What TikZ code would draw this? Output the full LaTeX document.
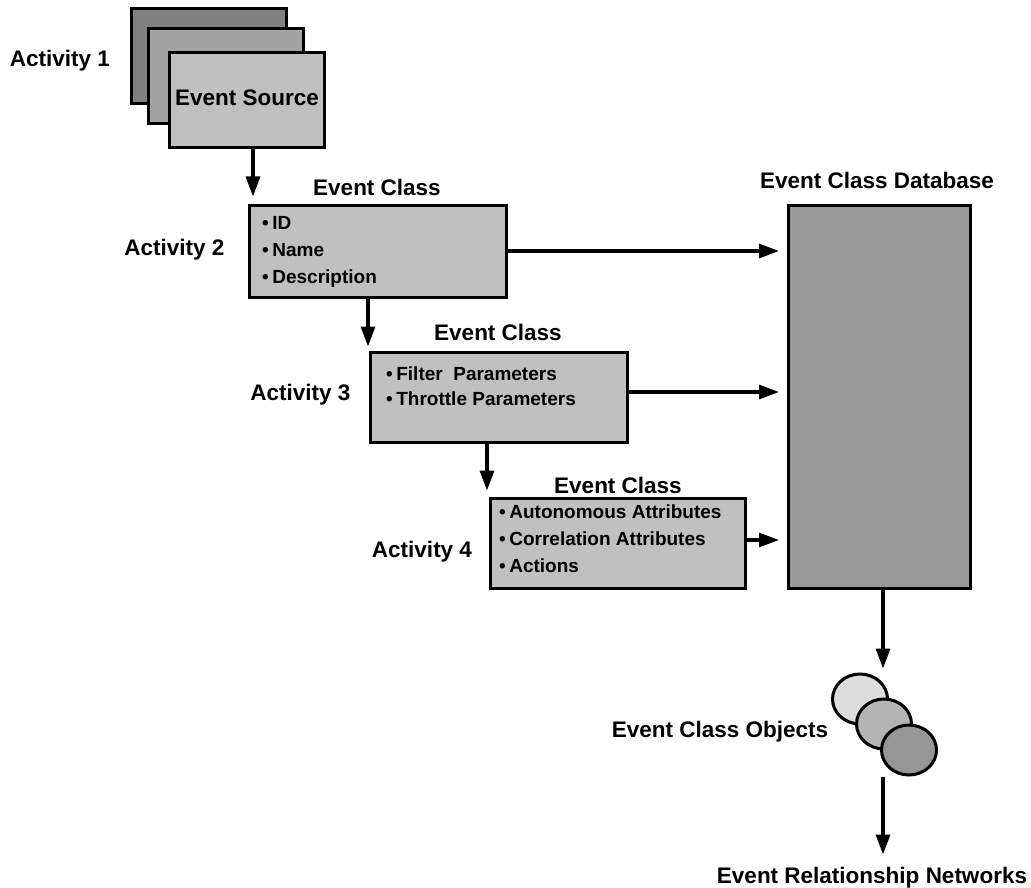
\documentclass[tikz,border=0pt]{standalone}
\usepackage{fontspec}
\setmainfont{Liberation Sans}
\usetikzlibrary{arrows.meta,calc,shapes.geometric}

\definecolor{srcdark}{HTML}{808080}
\definecolor{srcmid}{HTML}{A3A3A3}
\definecolor{boxgray}{HTML}{C0C0C0}
\definecolor{dbgray}{HTML}{999999}
\definecolor{objlight}{HTML}{DCDCDC}
\definecolor{objmid}{HTML}{B4B4B4}
\definecolor{objdark}{HTML}{969696}

% bullet item: dot, small gap, text
\newcommand{\itm}[1]{\textbullet\hspace{3.5pt}#1}

\begin{document}
\begin{tikzpicture}[x=1pt,y=-1pt,
  font=\fontsize{22.5}{27}\selectfont\bfseries,
  panel/.style={draw, line width=3pt, fill=boxgray, inner sep=0pt},
  srcpanel/.style={panel, minimum width=155pt, minimum height=95pt},
  classbox/.style={panel, minimum width=256pt, minimum height=90pt},
  obj/.style={draw, line width=3pt, ellipse, minimum width=55pt, minimum height=50pt, inner sep=0pt},
  label/.style={inner sep=0pt, anchor=base},
  item/.style={inner sep=0pt, anchor=base west, font=\fontsize{19}{22}\selectfont\bfseries},
  arr/.style={line width=3.2pt, -{Triangle[length=20pt,width=14pt]}}]

\useasboundingbox (0,0) rectangle (1031,888);

% stacked event sources
\node[srcpanel, fill=srcdark] (src3) at (209,56) {};
\node[srcpanel, fill=srcmid]  (src2) at (226,76) {};
\node[srcpanel] (src1) at (247,100) {};
\node[label] (srct) at (247,106) {Event Source};
\node[label] (act1) at (60,67) {Activity 1};

% event class, activity 2
\node[classbox, minimum width=257pt, minimum height=92pt] (box1) at (377.5,251) {};
\node[label] (t1) at (377,195) {Event Class};
\node[label] (act2) at (174.5,255) {Activity 2};
\node[item] (i11) at (262,229) {\itm{ID}};
\node[item] (i12) at (262,256) {\itm{Name}};
\node[item] (i13) at (262,283) {\itm{Description}};

% event class, activity 3
\node[classbox, minimum width=257pt] (box2) at (498.5,397) {};
\node[label] (t2) at (498,340) {Event Class};
\node[label] (act3) at (300.5,400) {Activity 3};
\node[item] (i21) at (386,380) {\itm{Filter\ \ Parameters}};
\node[item] (i22) at (386,405) {\itm{Throttle Parameters}};

% event class, activity 4
\node[classbox, minimum width=255pt] (box3) at (617.5,543) {};
\node[label] (t3) at (618,493) {Event Class};
\node[label] (act4) at (422,557) {Activity 4};
\node[item] (i31) at (499,518) {\itm{Autonomous Attributes}};
\node[item] (i32) at (499,545) {\itm{Correlation Attributes}};
\node[item] (i33) at (499,572) {\itm{Actions}};

% database
\node[panel, fill=dbgray, minimum width=182pt, minimum height=383pt] (db) at (879.5,396.5) {};
\node[label] (tdb) at (877,188) {Event Class Database};

% event class objects
\node[obj, fill=objlight] (e1) at (860,699) {};
\node[obj, fill=objmid]   (e2) at (884,724) {};
\node[obj, fill=objdark]  (e3) at (909,750) {};
\node[label] (tobj) at (720,737) {Event Class Objects};
\node[label] (ern) at (872,883) {Event Relationship Networks};

% connectors
\coordinate (c1) at (253,0);
\coordinate (c3) at (368,0);
\coordinate (c5) at (487,0);
\coordinate (c7) at (883,0);
\coordinate (c4) at (0,392);
\coordinate (c6) at (0,540);
\draw[arr, shorten >=7pt] (src1.south -| c1) -- (box1.north -| c1);
\draw[arr, shorten >=8pt] (box1.east) -- (box1.east -| db.west);
\draw[arr, shorten >=4pt] (box1.south -| c3) -- (box2.north -| c3);
\draw[arr, shorten >=8pt] (box2.east |- c4) -- (db.west |- c4);
\draw[arr, shorten >=6pt] (box2.south -| c5) -- (box3.north -| c5);
\draw[arr, shorten >=8pt] (box3.east |- c6) -- (db.west |- c6);
\draw[arr, shorten >=4pt] (db.south -| c7) -- (e1.north -| c7);
\draw[arr, shorten >=12pt] (e3.south -| c7) -- (ern.north -| c7);
\end{tikzpicture}
\end{document}
